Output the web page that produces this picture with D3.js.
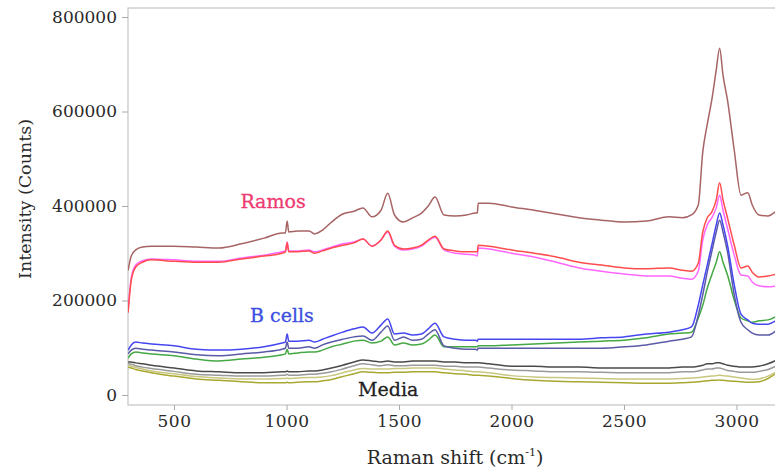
<!DOCTYPE html>
<html>
<head>
<meta charset="utf-8">
<script src="https://cdn.jsdelivr.net/npm/d3@7"></script>
<style>
  body { margin: 0; background: #fff; }
  svg { display: block; }
  .tick text { font-family: "DejaVu Serif", serif; fill: #2a2a2a; }
</style>
</head>
<body>
<div id="chart"></div>
<script>
// Raman shift grid (cm-1), shared by all spectra
const shift = [296, 310, 330, 360, 400, 500, 600, 700, 800, 900,
  980, 995, 1003, 1010, 1050, 1100, 1125, 1160, 1200, 1250,
  1300, 1340, 1380, 1420, 1450, 1480, 1520, 1560, 1600, 1630,
  1660, 1700, 1750, 1800, 1840, 1848, 1852, 1900, 2000, 2100,
  2200, 2300, 2400, 2500, 2600, 2700, 2760, 2800, 2830, 2850,
  2870, 2890, 2910, 2925, 2940, 2960, 2990, 3020, 3050, 3070,
  3100, 3140, 3180];

// intensities, thousands of counts
const ramosBrown = [264, 294, 307, 313, 315, 315, 313, 311, 320, 332,
  343, 343, 368, 345, 347, 347, 341, 349, 366, 383,
  389, 396, 377, 391, 427, 381, 366, 375, 385, 400,
  419, 381, 379, 381, 385, 385, 406, 406, 398, 391,
  383, 375, 370, 366, 368, 377, 375, 381, 402, 514,
  573, 624, 688, 734, 677, 624, 518, 423, 428, 402,
  381, 379, 391];
const ramosRed = [174, 243, 271, 281, 286, 283, 281, 281, 288, 294,
  300, 303, 322, 303, 303, 305, 300, 305, 311, 317,
  322, 330, 315, 328, 347, 317, 309, 311, 317, 328,
  336, 309, 305, 303, 303, 303, 317, 315, 307, 300,
  292, 281, 275, 269, 267, 269, 264, 262, 279, 345,
  375, 387, 413, 449, 413, 375, 317, 269, 273, 260,
  250, 252, 256];
const ramosMagenta = [180, 248, 275, 284, 288, 286, 283, 283, 290, 296,
  303, 305, 324, 305, 305, 307, 303, 307, 313, 320,
  324, 330, 315, 328, 345, 315, 307, 309, 315, 326,
  334, 307, 300, 298, 296, 294, 311, 309, 300, 292,
  281, 269, 262, 256, 252, 252, 247, 245, 262, 328,
  360, 375, 396, 423, 391, 353, 296, 254, 252, 239,
  231, 229, 231];
const bBlue = [95, 106, 112, 110, 108, 104, 97, 95, 97, 102,
  110, 112, 129, 114, 114, 116, 112, 118, 125, 133,
  140, 144, 131, 148, 161, 129, 131, 127, 129, 140,
  152, 123, 118, 116, 116, 114, 118, 118, 118, 118,
  118, 118, 121, 123, 129, 133, 138, 144, 190, 233,
  275, 317, 360, 385, 360, 317, 233, 171, 159, 152,
  150, 150, 159];
const bSlate = [87, 95, 99, 97, 95, 91, 85, 83, 87, 91,
  97, 99, 112, 99, 99, 102, 99, 106, 112, 118,
  123, 125, 116, 133, 146, 116, 123, 116, 118, 129,
  138, 104, 99, 97, 97, 95, 99, 99, 99, 99,
  99, 99, 99, 102, 106, 114, 118, 123, 169, 212,
  260, 303, 345, 370, 345, 303, 212, 154, 138, 131,
  127, 127, 138];
const bGreen = [78, 87, 91, 89, 87, 83, 76, 72, 76, 80,
  85, 87, 97, 87, 89, 91, 91, 95, 102, 108,
  114, 116, 110, 114, 123, 106, 110, 106, 108, 116,
  127, 102, 102, 102, 102, 102, 104, 104, 106, 108,
  110, 112, 114, 116, 121, 129, 131, 133, 163, 190,
  226, 254, 281, 303, 281, 254, 201, 163, 157, 154,
  157, 159, 167];
const mediaDark = [70, 70, 68, 66, 63, 57, 51, 49, 47, 47,
  49, 49, 51, 49, 49, 51, 51, 53, 57, 63,
  70, 74, 72, 70, 72, 70, 70, 72, 72, 72,
  72, 70, 70, 68, 68, 68, 68, 66, 61, 61,
  59, 59, 57, 57, 57, 57, 59, 59, 61, 63,
  66, 66, 68, 68, 66, 63, 61, 59, 59, 59,
  61, 66, 74];
const mediaGray = [66, 65, 62, 59, 56, 50, 44, 42, 40, 40,
  42, 42, 44, 42, 42, 44, 44, 46, 49, 55,
  62, 66, 64, 62, 64, 62, 62, 63, 63, 63,
  63, 61, 61, 59, 59, 59, 59, 57, 53, 51,
  49, 49, 48, 47, 47, 47, 49, 49, 51, 53,
  55, 55, 57, 57, 55, 52, 50, 48, 48, 48,
  50, 54, 62];
const mediaKhaki = [63, 61, 58, 55, 51, 45, 39, 36, 34, 34,
  35, 35, 36, 35, 36, 37, 37, 38, 41, 47,
  53, 56, 55, 55, 55, 56, 56, 57, 57, 57,
  57, 55, 53, 51, 49, 49, 49, 47, 41, 38,
  37, 36, 35, 34, 34, 34, 35, 36, 37, 38,
  39, 40, 41, 42, 41, 40, 38, 36, 34, 33,
  34, 40, 50];
const mediaOlive = [59, 57, 54, 51, 47, 40, 34, 31, 28, 26,
  26, 26, 27, 26, 27, 28, 28, 30, 33, 39,
  45, 49, 48, 47, 47, 48, 48, 49, 49, 49,
  49, 47, 45, 44, 42, 42, 42, 40, 35, 31,
  29, 28, 27, 26, 25, 25, 26, 27, 28, 29,
  30, 31, 31, 32, 31, 30, 29, 28, 27, 27,
  28, 35, 47];

const seriesNames = ['mediaOlive', 'mediaKhaki', 'mediaGray', 'mediaDark',
  'bGreen', 'bSlate', 'bBlue', 'ramosMagenta', 'ramosRed', 'ramosBrown'];
const seriesValues = [mediaOlive, mediaKhaki, mediaGray, mediaDark,
  bGreen, bSlate, bBlue, ramosMagenta, ramosRed, ramosBrown];
const seriesColors = ['#a8a830', '#c9c77f', '#9a9a9a', '#4a4a4a',
  '#44a844', '#5a5aa8', '#4646f0', '#ff66ff', '#ff4d4d', '#a86464'];

const yTicks = [0, 200000, 400000, 600000, 800000];
const xTicks = [500, 1000, 1500, 2000, 2500, 3000];

const groupLabels = ['Ramos', 'B cells', 'Media'];
const labelShift = [795, 838, 1318];
const labelCounts = [395000, 154000, -2000];
const labelColors = ['#ee3a72', '#3c4ee0', '#222'];

const width = 775, height = 472;
const box = {left: 128, top: 8, right: 795, bottom: 405};

const x = d3.scaleLinear()
  .domain([500, 3000])
  .range([174, 736.5]);

const y = d3.scaleLinear()
  .domain([0, 800000])
  .range([395, 17]);

const svg = d3.select('#chart')
  .append('svg')
  .attr('width', width)
  .attr('height', height);

svg.append('clipPath')
  .attr('id', 'plot-clip')
  .append('rect')
  .attr('x', box.left)
  .attr('y', box.top)
  .attr('width', box.right - box.left)
  .attr('height', box.bottom - box.top);

// frame
svg.append('rect')
  .attr('x', box.left)
  .attr('y', box.top)
  .attr('width', box.right - box.left)
  .attr('height', box.bottom - box.top)
  .attr('fill', 'none')
  .attr('stroke', '#c4c4c4')
  .attr('stroke-width', 1.2);

const yAxis = d3.axisLeft(y)
  .tickValues(yTicks)
  .tickSize(6)
  .tickPadding(5)
  .tickFormat(d3.format('d'));

const yGroup = svg.append('g')
  .attr('transform', 'translate(' + box.left + ',0)')
  .call(yAxis);
yGroup.select('.domain').remove();
yGroup.selectAll('.tick line').attr('stroke', '#aaa');
yGroup.selectAll('.tick text')
  .style('font-size', '17px');

const xAxis = d3.axisBottom(x)
  .tickValues(xTicks)
  .tickSize(5)
  .tickPadding(5)
  .tickFormat(d3.format('d'));

const xGroup = svg.append('g')
  .attr('transform', 'translate(0,' + box.bottom + ')')
  .call(xAxis);
xGroup.select('.domain').remove();
xGroup.selectAll('.tick line').attr('stroke', '#aaa');
xGroup.selectAll('.tick text')
  .style('font-size', '17px')
  .style('letter-spacing', '0.5px');

const line = d3.line()
  .x((d, i) => x(shift[i]))
  .y(d => y(d * 1000))
  .curve(d3.curveMonotoneX);

svg.append('g')
  .attr('clip-path', 'url(#plot-clip)')
  .selectAll('path')
  .data(seriesValues)
  .enter().append('path')
  .attr('class', (d, i) => 'spectrum ' + seriesNames[i])
  .attr('fill', 'none')
  .attr('stroke', (d, i) => seriesColors[i])
  .attr('stroke-width', 1.5)
  .attr('stroke-linejoin', 'round')
  .attr('d', line);

svg.selectAll('.group-label')
  .data(groupLabels)
  .enter().append('text')
  .attr('class', 'group-label')
  .attr('x', (d, i) => x(labelShift[i]))
  .attr('y', (d, i) => y(labelCounts[i]))
  .attr('fill', (d, i) => labelColors[i])
  .style('font-family', '"DejaVu Serif", serif')
  .style('font-size', '19px')
  .style('stroke', (d, i) => labelColors[i])
  .style('stroke-width', 0.3)
  .text(d => d);

// axis titles
svg.append('text')
  .attr('transform', 'translate(31,199) rotate(-90)')
  .attr('text-anchor', 'middle')
  .attr('fill', '#2a2a2a')
  .style('font-family', '"DejaVu Serif", serif')
  .style('font-size', '17.5px')
  .text('Intensity (Counts)');

const xTitle = svg.append('text')
  .attr('x', 455)
  .attr('y', 464)
  .attr('text-anchor', 'middle')
  .attr('fill', '#2a2a2a')
  .style('font-family', '"DejaVu Serif", serif')
  .style('font-size', '19px');
xTitle.append('tspan').text('Raman shift (cm');
xTitle.append('tspan')
  .attr('dy', -8)
  .style('font-size', '11px')
  .text('-1');
xTitle.append('tspan')
  .attr('dy', 8)
  .text(')');
</script>
</body>
</html>
